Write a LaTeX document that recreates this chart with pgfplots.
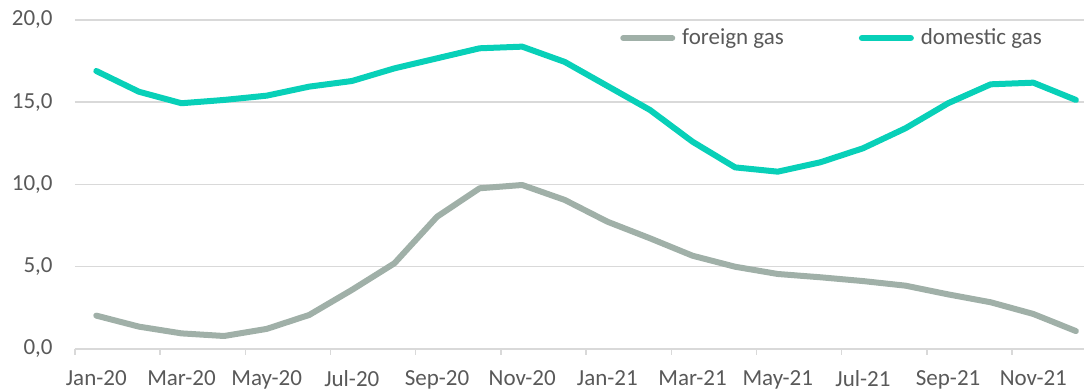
\documentclass[border=0pt]{standalone}
\usepackage{fontspec}
\setmainfont{Carlito}
\usepackage{pgfplots}
\pgfplotsset{compat=1.18}
\definecolor{domc}{RGB}{8,208,184}
\definecolor{forc}{RGB}{160,176,168}
\definecolor{gridc}{RGB}{217,217,217}
\definecolor{txtc}{RGB}{89,89,89}
\begin{document}
\fontsize{11.5}{13}\selectfont
\begin{tikzpicture}
\path[use as bounding box] (-37.5pt,-21pt) rectangle (504.5pt,174.5pt);
\begin{axis}[
  at={(0pt,0pt)}, anchor=south west,
  scale only axis, width=504.5pt, height=164.5pt,
  xmin=-0.5, xmax=23.19, ymin=0, ymax=20,
  axis x line*=bottom, axis y line*=left,
  x axis line style={draw=gridc, line width=0.75pt},
  y axis line style={draw=none},
  ytick={0,5,10,15,20},
  ymajorgrids, grid style={draw=gridc, line width=0.75pt},
  ytick style={draw=none},
  yticklabel style={text=txtc, font=\fontsize{11.5}{13}\selectfont, inner sep=0pt, anchor=east, xshift=-11pt},
  /pgf/number format/.cd, use comma, fixed, fixed zerofill, precision=1, assume math mode=true, /pgfplots/.cd,
  xtick={-0.5,1.5,...,21.5}, xticklabels={},
  xtick align=outside, major tick length=3pt,
  xtick style={draw=gridc, line width=0.75pt},
  extra x ticks={0,2,...,22},
  extra x tick labels={Jan-20,Mar-20,May-20,Jul-20,Sep-20,Nov-20,Jan-21,Mar-21,May-21,Jul-21,Sep-21,Nov-21},
  extra x tick style={major tick length=0pt, xticklabel style={text=txtc, font=\fontsize{11.5}{13}\selectfont, inner sep=0pt, anchor=north, yshift=-10.5pt}},
  legend columns=2,
  legend style={at={(rel axis cs:0.540,0.945)}, anchor=west, draw=none, fill=none, inner sep=0pt,
    nodes={inner sep=0pt, text=txtc, font=\fontsize{11.5}{13}\selectfont},
    /tikz/every odd column/.append style={column sep=3.5pt},
    /tikz/every even column/.append style={column sep=37.5pt}},
  legend image code/.code={\draw[#1] (0pt,0pt) -- (24.5pt,0pt);},
]
\addplot[forc, line width=3pt, line cap=round, line join=round] coordinates {
(0,2.03) (1,1.36) (2,0.95) (3,0.79) (4,1.22) (5,2.07) (6,3.59) (7,5.21) (8,8.04) (9,9.77) (10,9.97) (11,9.06)
(12,7.74) (13,6.73) (14,5.67) (15,5.00) (16,4.56) (17,4.36) (18,4.13) (19,3.85) (20,3.32) (21,2.84) (22,2.13) (23,1.09)
};
\addlegendentry{foreign gas}
\addplot[domc, line width=3pt, line cap=round, line join=round] coordinates {
(0,16.90) (1,15.64) (2,14.94) (3,15.14) (4,15.40) (5,15.95) (6,16.29) (7,17.06) (8,17.67) (9,18.28) (10,18.38) (11,17.45)
(12,15.99) (13,14.53) (14,12.60) (15,11.04) (16,10.78) (17,11.35) (18,12.20) (19,13.42) (20,14.94) (21,16.09) (22,16.19) (23,15.14)
};
\addlegendentry{domestic gas}
\end{axis}
\end{tikzpicture}
\end{document}
